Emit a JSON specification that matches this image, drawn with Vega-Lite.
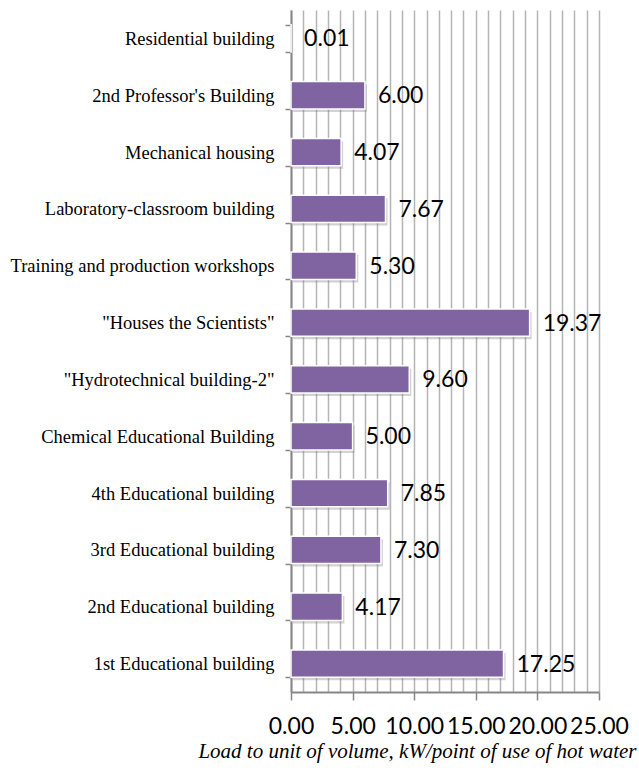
{
  "$schema": "https://vega.github.io/schema/vega-lite/v6.json",
  "width": 308,
  "height": 682,
  "autosize": {"type": "none"},
  "padding": {"left": 291, "top": 10, "right": 40, "bottom": 80},
  "background": "white",
  "config": {
    "view": {"stroke": null}
  },
  "data": {
    "values": [
      {"building": "Residential building", "load": 0.01},
      {"building": "2nd Professor's Building", "load": 6.00},
      {"building": "Mechanical housing", "load": 4.07},
      {"building": "Laboratory-classroom building", "load": 7.67},
      {"building": "Training and production workshops", "load": 5.30},
      {"building": "\"Houses the Scientists\"", "load": 19.37},
      {"building": "\"Hydrotechnical building-2\"", "load": 9.60},
      {"building": "Chemical Educational Building ", "load": 5.00},
      {"building": "4th Educational building", "load": 7.85},
      {"building": "3rd Educational building", "load": 7.30},
      {"building": "2nd Educational building", "load": 4.17},
      {"building": "1st Educational building", "load": 17.25}
    ]
  },
  "encoding": {
    "y": {
      "field": "building",
      "type": "nominal",
      "sort": null,
      "scale": {"paddingInner": 0.52, "paddingOuter": 0.26},
      "axis": {
        "title": null,
        "labelFont": "Liberation Serif",
        "labelFontSize": 18.5,
        "labelColor": "#000000",
        "labelPadding": 11,
        "labelLimit": 400,
        "tickBand": "extent",
        "tickSize": 6,
        "tickColor": "#878787",
        "tickWidth": 1.5,
        "domainColor": "#878787",
        "domainWidth": 2,
        "grid": false
      }
    },
    "x": {
      "field": "load",
      "type": "quantitative",
      "scale": {"domain": [0, 25], "nice": false},
      "axis": {
        "values": [0,1,2,3,4,5,6,7,8,9,10,11,12,13,14,15,16,17,18,19,20,21,22,23,24,25],
        "grid": true,
        "gridColor": "#b5b5b5",
        "gridWidth": 1.5,
        "domainColor": "#878787",
        "domainWidth": 2,
        "tickColor": "#878787",
        "tickWidth": 1.5,
        "tickSize": 8,
        "tickOpacity": {"condition": {"test": "datum.value % 5 === 0", "value": 1}, "value": 0},
        "labelOpacity": {"condition": {"test": "datum.value % 5 === 0", "value": 1}, "value": 0},
        "labelExpr": "format(datum.value, '.2f')",
        "labelFont": "Lato",
        "labelFontSize": 23,
        "labelColor": "#000000",
        "labelPadding": 15,
        "labelOverlap": false,
        "labelBound": false,
        "labelFlush": false,
        "title": "Load to unit of volume, kW/point of use of hot water",
        "titleFont": "Liberation Serif",
        "titleFontStyle": "italic",
        "titleFontWeight": "normal",
        "titleFontSize": 21,
        "titleColor": "#000000",
        "titleAnchor": "end",
        "titleAlign": "right",
        "titleX": 345,
        "titleY": 65,
        "titleBaseline": "alphabetic"
      }
    }
  },
  "layer": [
    {
      "mark": {"type": "bar", "color": "#7f7f7f", "opacity": 0.35, "xOffset": 2, "yOffset": 3}
    },
    {
      "mark": {"type": "bar", "color": "#8064A2", "stroke": "white", "strokeWidth": 1.5}
    },
    {
      "mark": {"type": "text", "align": "left", "baseline": "middle", "dx": 13, "dy": 1, "font": "Lato", "fontSize": 23, "color": "#000000"},
      "encoding": {"text": {"field": "load", "type": "quantitative", "format": ".2f"}}
    }
  ]
}
